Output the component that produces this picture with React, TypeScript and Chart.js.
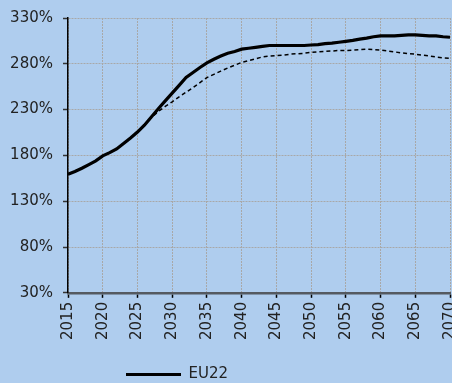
import React, { useEffect, useRef } from "react";
import { Chart, registerables } from "chart.js";

Chart.register(...registerables);

const years: number[] = [
  2015, 2016, 2017, 2018, 2019, 2020, 2021, 2022, 2023, 2024,
  2025, 2026, 2027, 2028, 2029, 2030, 2031, 2032, 2033, 2034,
  2035, 2036, 2037, 2038, 2039, 2040, 2041, 2042, 2043, 2044,
  2045, 2046, 2047, 2048, 2049, 2050, 2051, 2052, 2053, 2054,
  2055, 2056, 2057, 2058, 2059, 2060, 2061, 2062, 2063, 2064,
  2065, 2066, 2067, 2068, 2069, 2070,
];

const eu22: number[] = [
  159.5, 162.5, 166, 170, 174, 179.5, 183, 187, 193, 199,
  205.5, 213, 222, 231, 239.5, 248, 256.5, 265, 270.5, 276,
  281, 285, 288.5, 291.5, 293.5, 296, 297, 298, 299, 300,
  300, 300, 300, 300, 300, 300.5, 301, 302, 302.5, 303.5,
  304.5, 305.5, 307, 308, 309.5, 310.5, 310.5, 310.5, 311, 311.5,
  311.5, 311, 310.5, 310.5, 309.5, 309,
];

const alternative: number[] = [
  159.5, 162.5, 166, 170, 174, 179.5, 183, 187, 193, 199,
  205.5, 213, 221, 228, 233.5, 238.5, 244, 249, 254, 259.5,
  265, 268.5, 272, 275.5, 278.5, 281.5, 283.5, 285.5, 287.5, 288.5,
  289, 289.5, 290.5, 291, 291.5, 292.5, 293, 293.5, 294, 294.5,
  294.5, 295, 295.5, 296, 295.5, 295, 294, 293, 292, 291,
  290.5, 289.5, 288.5, 287.5, 286.5, 286,
];

const seriesLabels: string[] = ["EU22", "EU22 (alternative)"];
const yTicks: number[] = [30, 80, 130, 180, 230, 280, 330];
const xTickStep = 5;

const FONT = "'DejaVu Sans', sans-serif";
const TEXT = "#222222";

export default function App() {
  const ref = useRef<HTMLCanvasElement | null>(null);

  useEffect(() => {
    document.body.style.margin = "0";
    document.body.style.background = "#afcdee";
    const canvas = ref.current!;
    const legendMover = {
      id: "legendMover",
      afterLayout(chart: any) {
        const lg = chart.legend;
        if (!lg) return;
        const w = lg.width;
        const h = lg.height;
        lg.left = 116;
        lg.right = 116 + w;
        lg.top = 357;
        lg.bottom = 357 + h;
      },
    };
    const bg = {
      id: "bg",
      beforeDraw(chart: any) {
        const c = chart.ctx;
        c.save();
        c.fillStyle = "#afcdee";
        c.fillRect(0, 0, chart.width, chart.height);
        c.restore();
      },
    };
    const chart = new Chart(canvas, {
      type: "line",
      data: {
        datasets: [
          {
            label: seriesLabels[0],
            data: years.map((x, i) => ({ x, y: eu22[i] })),
            borderColor: "#000000",
            backgroundColor: "#000000",
            borderWidth: 3.2,
            pointRadius: 0,
            tension: 0,
            fill: false,
            order: 0,
          },
          {
            label: seriesLabels[1],
            data: years.map((x, i) => ({ x, y: alternative[i] })),
            borderColor: "#000000",
            backgroundColor: "#000000",
            borderWidth: 1.5,
            borderDash: [4, 3],
            pointRadius: 0,
            tension: 0,
            fill: false,
            order: 1,
          },
        ],
      },
      options: {
        responsive: false,
        animation: false,
        layout: { padding: { top: 18, left: 0, right: 2, bottom: 4 } },
        plugins: {
          tooltip: { enabled: false },
          legend: {
            display: true,
            position: "bottom",
            align: "start",
            labels: {
              filter: (item: any) => item.datasetIndex === 0,
              usePointStyle: true,
              pointStyle: "line",
              pointStyleWidth: 55,
              boxHeight: 15,
              padding: 10,
              color: TEXT,
              font: { family: FONT, size: 15 },
            },
          },
        },
        scales: {
          x: {
            type: "linear",
            min: years[0],
            max: years[years.length - 1],
            afterFit(scale: any) {
              scale.paddingRight = 0;
              scale.paddingLeft = 0;
            },
            ticks: {
              stepSize: xTickStep,
              autoSkip: false,
              maxRotation: 90,
              minRotation: 90,
              padding: 4,
              color: TEXT,
              font: { family: FONT, size: 15 },
              callback: (v: any) => String(v),
            },
            grid: {
              color: "#a8a8a8",
              lineWidth: 1,
              tickColor: "#000000",
              tickLength: 5,
              tickWidth: 1.5,
              tickBorderDash: [],
            },
            border: { display: true, color: "#555a60", width: 2.5, dash: [2, 1] },
          },
          y: {
            type: "linear",
            min: yTicks[0],
            max: yTicks[yTicks.length - 1],
            afterFit(scale: any) {
              scale.width = 68;
              scale.paddingTop = 0;
              scale.paddingBottom = 0;
            },
            afterBuildTicks(scale: any) {
              scale.ticks = yTicks.map((v) => ({ value: v }));
            },
            ticks: {
              padding: 10,
              color: TEXT,
              font: { family: FONT, size: 15 },
              callback: (v: any) => v + "%",
            },
            grid: {
              color: "#a8a8a8",
              lineWidth: 1,
              tickColor: "#333333",
              tickLength: 5,
              tickWidth: 1.5,
              tickBorderDash: [],
            },
            border: { display: true, color: "#000000", width: 1.5, dash: [2, 1] },
          },
        },
      },
      plugins: [bg, legendMover],
    } as any);
    return () => chart.destroy();
  }, []);

  return (
    <div style={{ position: "fixed", left: 0, top: 0, width: 452, height: 383, overflow: "hidden", background: "#afcdee" }}>
      <canvas ref={ref} width={452} height={383} style={{ display: "block" }} />
    </div>
  );
}
